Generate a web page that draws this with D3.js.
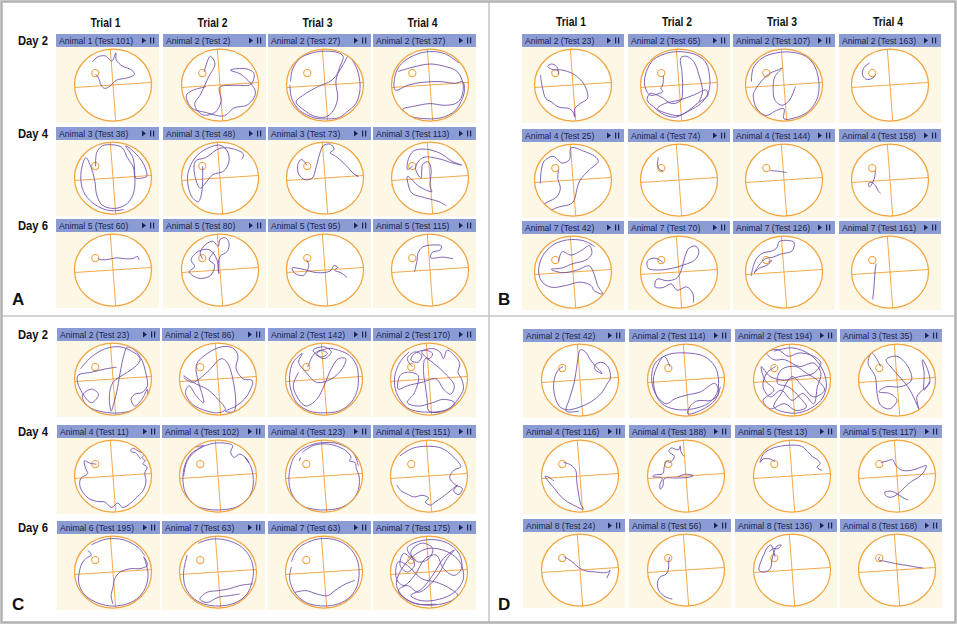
<!DOCTYPE html>
<html lang="en">
<head>
<meta charset="UTF-8">
<title>Water maze swim paths</title>
<script src="https://cdn.jsdelivr.net/npm/d3@7"></script>
<style>
  body { margin: 0; padding: 0; background: #ffffff; }
  svg { display: block; }
</style>
</head>
<body>
<div id="chart"></div>
<script>
// ---- data ----
const panelLetters = ["A", "B", "C", "D"];
const trialLabels = ["Trial 1", "Trial 2", "Trial 3", "Trial 4"];
const dayLabels = ["Day 2", "Day 4", "Day 6"];

const headersA = ["Animal 1 (Test 101)", "Animal 2 (Test 2)", "Animal 2 (Test 27)", "Animal 2 (Test 37)",
  "Animal 3 (Test 38)", "Animal 3 (Test 48)", "Animal 3 (Test 73)", "Animal 3 (Test 113)",
  "Animal 5 (Test 60)", "Animal 5 (Test 80)", "Animal 5 (Test 95)", "Animal 5 (Test 115)"];
const headersB = ["Animal 2 (Test 23)", "Animal 2 (Test 65)", "Animal 2 (Test 107)", "Animal 2 (Test 163)",
  "Animal 4 (Test 25)", "Animal 4 (Test 74)", "Animal 4 (Test 144)", "Animal 4 (Test 158)",
  "Animal 7 (Test 42)", "Animal 7 (Test 70)", "Animal 7 (Test 126)", "Animal 7 (Test 161)"];
const headersC = ["Animal 2 (Test 23)", "Animal 2 (Test 86)", "Animal 2 (Test 142)", "Animal 2 (Test 170)",
  "Animal 4 (Test 11)", "Animal 4 (Test 102)", "Animal 4 (Test 123)", "Animal 4 (Test 151)",
  "Animal 6 (Test 195)", "Animal 7 (Test 63)", "Animal 7 (Test 63)", "Animal 7 (Test 175)"];
const headersD = ["Animal 2 (Test 42)", "Animal 2 (Test 114)", "Animal 2 (Test 194)", "Animal 3 (Test 35)",
  "Animal 4 (Test 116)", "Animal 4 (Test 188)", "Animal 5 (Test 13)", "Animal 5 (Test 117)",
  "Animal 8 (Test 24)", "Animal 8 (Test 56)", "Animal 8 (Test 136)", "Animal 8 (Test 168)"];

// platform position in pool units (-100..100)
const platform = [-46, -33];

// swim tracks, pool units (-100..100, y down), one per cell, row by row; null breaks a track
const pathsA = [
  [[-57,-68],[-42,-83],[-21,-86],[-3,-71],[8,-95],[9,-74],[26,-56],[52,-44],[59,-31],[39,-21],[9,-14],[-8,3],[-23,10],[-33,0],[-40,-21],[-47,-31]],
  [[-44,-39],[-27,-85],[-14,-62],[-31,-25],[-53,26],[-70,58],[-48,88],[-14,81],[3,49],[-1,7],[38,1],[85,-2],[94,-34],[72,-48],[29,-44],[60,-30],[98,21],[77,58],[38,68],[12,91],[-40,81],[-78,68],[-93,31],[-78,17],[-39,5]],
  [[-95,-10],[-90,-45],[-70,-78],[-35,-95],[0,-100],[35,-96],[50,-85],[40,-50],[30,-10],[35,40],[20,80],[0,95],[-30,92],[-50,80],[-80,50],[-60,30],[-20,5],[20,-15],[50,-60],[65,-85],[85,-55],[95,-20],[96,20],[85,55],[60,80],[40,96],[10,100],[-30,97],[-70,75],[-92,40],[-97,0]],
  [[-88,-40],[-50,-52],[0,-62],[40,-55],[75,-40],[92,0],[85,40],[70,55],[40,60],[0,55],[-40,62],[-75,72],[-60,90],[-20,99],[30,97],[70,75],[95,20],[90,-10],[70,-5],[30,-10],[-20,-8],[-60,0],[-96,15],[-98,-20],[-85,-55],[-55,-82],[-10,-98],[40,-93],[80,-65]],
  [[-48,-34],[-45,-75],[-30,-95],[0,-98],[25,-90],[40,-60],[57,-30],[62,0],[80,0],[93,-5],[85,-40],[60,-75],[35,-95],[55,-60],[60,-10],[58,40],[40,75],[5,90],[-30,80],[-45,50],[-50,10],[-60,-30],[-75,-60],[-88,-20],[-85,30],[-65,65],[-30,90],[0,97],[30,93]],
  [[-48,-35],[-48,10],[-50,40],[-60,70],[-78,55],[-90,0],[-80,-40],[-60,-70],[-30,-90],[0,-97],[20,-80],[25,-50],[10,-20],[-20,-10],[-40,15],[-55,30],[-70,-10],[-68,-50],[-40,-60],[0,-88],[40,-85],[65,-70],[60,-55]],
  [[-50,-37],[-65,-55],[-75,-40],[-72,-10],[-55,5],[-35,0],[-25,-30],[-15,-70],[-5,-95],[15,-100],[25,-85],[15,-75],[35,-60],[60,-35],[80,-12],[92,-5],[85,-8]],
  [[-48,-36],[-62,-25],[-60,-55],[-45,-80],[-10,-85],[30,-72],[60,-50],[87,-38],[60,-45],[20,-58],[-20,-60],[-40,-30],[-25,0],[-20,-40],[-5,-48],[3,-25],[0,25],[5,40],[-30,25],[-62,-5],[-60,20],[-50,45],[-15,58],[25,70],[45,82]],
  [[-42,-33],[-30,-30],[-10,-32],[10,-36],[35,-33],[55,-34],[68,-40],[72,-30]],
  [[-48,-33],[-55,-50],[-40,-75],[-20,-85],[-5,-70],[0,-90],[15,-95],[25,-80],[20,-55],[0,-40],[-5,0],[-3,10],[-10,-35],[-30,-60],[-60,-55],[-80,-30],[-70,-10],[-85,5],[-70,20],[-50,25],[-25,15],[-15,-15],[-30,-30],[-15,-55]],
  [[-51,-31],[-45,-13],[-59,16],[-83,10],[-91,-6],[-68,-4],[-21,8],[14,3],[25,-13],[35,-8],[27,1],[44,8],[61,22]],
  [[-43,6],[-36,-27],[-33,-50],[-20,-68],[10,-74],[32,-71],[28,-59],[6,-52],[2,-36],[36,-38],[64,-33]]
];

const pathsB = [
  [[-40,-31],[-45,-55],[-60,-62],[-70,-55],[-55,-45],[-35,-45],[-15,-40],[5,-30],[25,-10],[38,15],[40,40],[20,55],[5,70],[5,95],[0,80],[-10,70],[-40,65],[-60,50],[-75,40],[-85,5],[-90,-30]],
  [[-43,-28],[-45,0],[-50,10],[-45,20],[-55,25],[-80,30],[-95,0],[-90,-40],[-70,-75],[-30,-95],[10,-98],[50,-88],[75,-65],[85,-20],[82,20],[60,55],[30,75],[0,90],[-30,85],[-60,70],[-40,55],[0,45],[40,30],[75,15],[80,30],[50,55],[20,80],[-10,95],[-40,88],[-70,65],[-88,45],[-80,25],[-50,35],[-20,55],[5,45],[10,10],[8,-40],[5,-80],[20,-85],[40,-70],[55,-30],[65,20],[55,50]],
  [[-90,-10],[-85,-50],[-60,-80],[-20,-95],[20,-97],[60,-85],[85,-55],[97,0],[90,45],[65,80],[30,97],[0,100],[0,70],[-20,75],[-50,90],[-75,70],[-85,30],[-80,15],[-55,-20],[-38,-35],[-15,-45],[-5,-50],[-25,-25],[-30,10],[-25,45],[-5,60],[15,45],[30,10],[32,5]],
  [[-57,-65],[-72,-51],[-76,-31],[-66,-17],[-50,-19],[-41,-28]],
  [[-40,-30],[-42,-5],[-35,25],[-45,50],[-70,65],[-85,75],[-70,90],[-40,80],[-5,70],[5,55],[10,30],[20,0],[45,-30],[70,-55],[60,-70],[30,-85],[-5,-95],[-10,-60],[-30,-50],[-55,-70],[-80,-55],[-88,-25],[-90,10]],
  [[-57,-67],[-59,-44],[-53,-30],[-44,-27]],
  [[-39,-28],[-26,-27],[-9,-25],[7,-22]],
  [[-40,-28],[-42,-11],[-47,6],[-57,21],[-59,10],[-50,7],[-40,17],[-33,31],[-26,40]],
  [[-40,-30],[-30,-60],[-5,-50],[25,-65],[45,-78],[52,-55],[35,-35],[0,-25],[-30,-12],[-60,-8],[-30,2],[10,-5],[45,-18],[58,5],[68,40],[82,65],[58,55],[50,40],[20,30],[-20,40],[-60,45],[-85,30],[-95,0],[-85,-45],[-55,-80],[-15,-95],[30,-92],[60,-75]],
  [[-44,-28],[-66,-41],[-87,-33],[-85,-11],[-57,-6],[-18,-11],[16,-22],[42,-34],[55,-57],[47,-76],[28,-71],[16,-44],[8,-11],[-5,17],[-31,26],[-61,21],[-66,44],[-44,46],[-22,35],[-5,54],[21,44],[38,63],[40,91]],
  [[-91,12],[-84,-20],[-73,-44],[-56,-57],[-34,-62],[-20,-71],[-13,-90],[13,-93],[28,-87],[22,-62],[-9,-53],[-30,-44],[-52,-39],[-69,-20],[-82,3],[-69,-11],[-47,-20],[-34,-34],[-42,-30]],
  [[-38,-25],[-41,-6],[-43,26],[-45,54],[-48,81]]
];

const pathsC = [
  [[-90,-30],[-60,-65],[-20,-90],[20,-95],[55,-80],[75,-60],[65,-40],[40,-20],[0,10],[-10,50],[-5,95],[0,80],[10,40],[20,-20],[30,-70],[40,-95],[60,-85],[80,-55],[90,-20],[95,20],[80,40],[60,45],[50,60],[60,80],[80,60],[95,30],[90,70],[60,90],[20,100],[-30,97],[-70,80],[-85,50],[-60,30],[-40,45],[-60,70],[-95,20],[-97,-10],[-60,-20],[-20,-30],[10,-35]],
  [[-95,-10],[-60,15],[-30,30],[0,60],[20,90],[0,100],[-30,95],[-70,75],[-90,40],[-80,20],[-60,50],[-40,70],[-60,-40],[-30,-75],[10,-95],[40,-92],[55,-70],[50,-30],[70,0],[95,5],[80,50],[50,80],[20,95],[45,95],[30,-40],[10,-60],[-30,-20],[-70,10],[-95,-5]],
  [[-45,-35],[-30,-70],[-10,-85],[10,-75],[-10,-65],[-30,-85],[0,-95],[20,-80],[0,-60],[-20,-75],[10,-90],[40,-85],[70,-70],[90,-40],[95,0],[90,40],[70,75],[40,95],[0,100],[-40,95],[-75,70],[-92,30],[-95,-10],[-85,-50],[-60,-75],[-70,-50],[-50,-20],[-20,10],[20,0],[50,-30],[60,-60],[40,-60],[20,-30],[0,20],[-20,60],[-50,80],[-70,60],[-85,20],[-70,-20]],
  [[-45,-35],[-60,-60],[-40,-80],[-20,-70],[-30,-50],[-50,-55],[-40,-75],[-10,-85],[10,-75],[0,-60],[-20,-80],[10,-90],[30,-80],[40,-60],[50,-85],[70,-70],[85,-45],[80,-20],[90,0],[95,30],[80,60],[60,85],[30,98],[0,95],[-5,60],[-10,20],[-15,-20],[-10,-60],[20,-40],[50,-10],[70,20],[60,45],[40,30],[20,0],[-20,10],[-60,20],[-85,30],[-80,-10],[-60,-20],[-30,-10],[-40,40],[-60,70],[-30,80],[10,70],[40,60],[70,70],[50,90],[-10,98],[-60,85],[-90,40],[-95,-5],[-80,-50],[-55,-80]],
  [[-46,-35],[-64,-38],[-79,-45],[-76,-23],[-70,-7],[-89,7],[-91,32],[-70,64],[-45,75],[-22,77],[-4,93],[13,80],[27,93],[49,80],[64,64],[82,45],[91,18],[88,-9],[94,-27],[82,-36],[89,-45],[80,-55],[88,-64],[71,-73],[54,-82],[49,-73],[63,-68],[76,-50]],
  [[-95,0],[-85,-45],[-60,-75],[-20,-95],[20,-97],[40,-90],[35,-70],[45,-55],[60,-65],[80,-50],[85,-40],[75,-55],[90,-30],[97,0],[95,40],[80,70],[50,92],[10,100],[-30,98],[-65,85],[-90,50],[-97,10],[-92,-30],[-75,-65],[-40,-90],[-60,-85]],
  [[-65,-55],[-68,-45],null,[-60,-70],[-30,-90],[0,-95],[30,-90],[60,-75],[75,-55],[70,-45],[85,-40],[90,-20],[97,0],[95,40],[80,70],[50,92],[10,100],[-30,98],[-65,85],[-90,50],[-97,10],[-92,-30],[-80,-60],[-50,-85],[-10,-98],[40,-95],[80,-70],[95,-30]],
  [[-81,-59],[-45,-82],[-5,-88],[35,-82],[65,-59],[88,-27],[70,-18],[57,5],[74,27],[92,36],[83,55],[68,44],[79,27],[52,50],[35,64],[17,77],[4,86],[-10,77],[-1,65],[-19,57],[-41,62],[-61,53],[-76,45],[-89,27]],
  [[-70,-65],[-60,-50],[-75,-40],[-88,-20],[-95,30],[-80,65],[-50,88],[-10,100],[30,97],[65,80],[88,50],[97,10],[90,-30],[85,-45],[95,-20],[75,-10],[50,-10],[20,0],[5,20],[0,45],[-5,70],[0,95],null,[-60,-80],[-20,-97],[30,-95],[70,-72],[88,-48]],
  [[-85,-50],[-95,0],[-90,45],[-65,80],[-30,97],[10,100],[50,90],[80,65],[95,25],[97,-15],[85,-50],[60,-78],[20,-95],[-20,-97],[-55,-85],null,[96,35],[60,40],[30,50],[0,55],[-30,60],[-50,80],[-30,90],[0,75],[30,70],[60,65]],
  [[-90,-30],[-75,-65],[-45,-88],[-5,-99],[35,-94],[70,-72],[92,-35],[97,10],[88,50],[65,80],[30,97],[-10,100],[-50,90],[-80,62],[-95,20],[-90,-15],null,[-80,60],[-50,55],[-20,65],[10,70],[30,55],[60,35],[85,25]],
  [[-45,-35],[-70,-55],[-80,-20],[-60,0],[-40,-20],[-50,-60],[-20,-85],[10,-70],[0,-40],[-30,-30],[-60,-70],[-30,-90],[20,-95],[60,-80],[85,-50],[90,-10],[70,10],[40,-10],[20,-50],[-10,-40],[-40,10],[-70,40],[-90,20],[-85,-30],[-60,-20],[-20,20],[20,30],[60,50],[80,70],[50,90],[0,98],[-50,88],[-85,55],[-60,40],[-30,60],[0,40],[30,0],[50,-40],[70,-65],[40,-40],[10,10],[-20,50],[-50,70],[-20,85],[30,80],[70,60],[95,20],[85,-30],[50,-60],[0,-70],[-40,-50],[-75,-10],[-90,35],[-70,75],[-30,95],[20,95]]
];

const pathsD = [
  [[-47,-40],[-62,-27],[-72,4],[-71,41],[-57,78],[-36,88],[-3,81],[31,64],[59,39],[74,13],[84,-6],[78,-38],[61,-52],[44,-47],[40,-33],[61,-19],[31,-56],[14,-84],[1,-89],[-8,-47],[-16,8],[-29,55],[-38,92],[-3,92]],
  [[-45,-40],[-60,-70],[-80,-40],[-90,0],[-80,50],[-60,75],[-20,88],[20,85],[60,70],[85,40],[90,0],[80,-40],[50,-70],[0,-80],[-50,-75],[-85,-50],[-95,-10],[-85,40],[-55,70],[-30,55],[0,45],[40,35],[80,10],[90,40],[70,60],[30,62],[10,80],[5,100],[40,90],[80,60],[95,20]],
  [[-45,-40],[-70,-20],[-80,20],[-60,50],[-30,30],[0,60],[30,40],[60,70],[70,20],[80,-20],[60,-50],[20,-40],[-20,-60],[-50,-60],[-70,-80],[-40,-90],[-10,-70],[20,-80],[60,-70],[80,-50],[60,-20],[20,-10],[-20,0],[-60,-10],[-85,-40],[-75,0],[-50,30],[-80,60],[-60,85],[-20,70],[10,90],[40,80],[20,50],[-10,20],[-40,10],[-30,-30],[10,-40],[40,-20],[70,0],[90,30],[60,50],[30,20],[0,-10],[-30,40],[-50,80],[0,98],[40,90],[80,60],[95,20],[85,-30],[50,-75],[0,-95],[-50,-85]],
  [[-45,-40],[-55,-60],[-70,-80],[-80,-50],[-60,-10],[-55,40],[-45,75],[-20,85],[0,60],[-20,40],[-50,35],[-30,20],[10,20],[40,0],[30,-40],[0,-70],[-30,-60],[-10,-30],[30,20],[50,60],[60,85],[55,50],[70,30],[90,10],[85,-30],[70,-60],[75,-20],[75,30],[90,5]],
  [[-45,-40],[-26,-33],[-12,-17],[-9,16],[-4,53],[2,83],[9,98],[-20,85],[-48,66],[-70,38],[-91,11],[-96,0],[-83,6],[-72,15]],
  [[-6,-58],[-14,-72],[-16,-89],[-21,-77],[-41,-83],[-47,-72],[-32,-58],[-45,-40],[-53,-44],[-60,-28],[-64,-7],[-86,-3],[-92,2],[-66,6],[-72,25],[-71,39],[-64,30],[-60,8],[-28,6],[7,4],[20,-1],[-2,-5],[-22,2]],
  [[-47,-42],[-60,-50],[-80,-50],[-88,-40],[-79,-65],[-56,-81],[-26,-89],[9,-91],[30,-86],[43,-72],[56,-58],[69,-49],[78,-37],[69,-26],[82,-17]],
  [[-45,-40],[-28,-44],[-12,-48],[-3,-31],[14,-17],[40,-17],[66,-26],[81,-31],[74,-12],[59,4],[40,16],[24,31],[7,48],[-12,62],[-29,60],[-34,48],[-16,45],[1,53],[16,64],[31,71]],
  [[-45,-39],[-30,-31],[-16,-19],[-2,-6],[17,3],[43,6],[68,8],[77,6],[83,1],[78,15],[74,24]],
  [[-45,-39],[-48,-25],[-48,-6],[-55,12],[-72,21],[-79,39],[-75,61],[-62,76],[-49,83],[-38,86]],
  [[-47,-39],[-52,-59],[-59,-74],[-69,-65],[-78,-45],[-86,-25],[-91,1],[-76,6],[-60,-4],[-56,-27],[-50,-52],[-41,-71],[-30,-74],[-39,-63],[-53,-63],[-62,-54]],
  [[-47,-39],[-51,-30],[-34,-26],[-4,-19],[30,-13],[56,-8],[72,-6]]
];

// ---- layout ----
const W = 957, H = 625;
const barH = 13, cellH = 76, rx = 38.5, ry = 36;
const trackScale = 0.94;   // tracks hug the wall just inside the ring

const panels = [
  { letter: panelLetters[0], headers: headersA, paths: pathsA, colX: [56, 163, 268, 373], barW: 103,
    rowY: [34, 127, 219], cxOff: 57, trials: true, trialY: 27, days: true, lx: 12, ly: 305 },
  { letter: panelLetters[1], headers: headersB, paths: pathsB, colX: [522, 628, 733, 839], barW: 102,
    rowY: [34, 129, 221], cxOff: 51, trials: true, trialY: 26, days: false, lx: 498, ly: 305 },
  { letter: panelLetters[2], headers: headersC, paths: pathsC, colX: [57, 162, 268, 373], barW: 103,
    rowY: [328, 425, 521], cxOff: 56, trials: false, days: true, lx: 12, ly: 610 },
  { letter: panelLetters[3], headers: headersD, paths: pathsD, colX: [523, 629, 735, 840], barW: 102,
    rowY: [329, 425, 519], cxOff: 57, trials: false, days: false, lx: 498, ly: 610 }
];

const svg = d3.select("#chart").append("svg")
    .attr("width", W)
    .attr("height", H)
    .attr("viewBox", [0, 0, W, H]);

svg.append("rect").attr("width", W).attr("height", H).attr("fill", "#fff");

const defs = svg.append("defs");
const tilt = 4 * Math.PI / 180;   // the cross hairs are slightly rotated
let clipId = 0;

panels.forEach(p => {
    const g = svg.append("g");

    if (p.trials) {
        g.selectAll("text.trial").data(trialLabels).join("text")
            .attr("class", "trial")
            .attr("x", (d, i) => p.colX[i] + p.barW / 2 - 2)
            .attr("y", p.trialY)
            .attr("text-anchor", "middle")
            .attr("textLength", 30)
            .attr("lengthAdjust", "spacingAndGlyphs")
            .attr("font-family", "Liberation Sans, Arial, sans-serif")
            .attr("font-weight", "bold")
            .attr("font-size", 13.5)
            .attr("fill", "#111")
            .text(d => d);
    }

    if (p.days) {
        g.selectAll("text.day").data(dayLabels).join("text")
            .attr("class", "day")
            .attr("x", 18)
            .attr("y", (d, i) => p.rowY[i] + 11)
            .attr("textLength", 30)
            .attr("lengthAdjust", "spacingAndGlyphs")
            .attr("font-family", "Liberation Sans, Arial, sans-serif")
            .attr("font-weight", "bold")
            .attr("font-size", 13.5)
            .attr("fill", "#111")
            .text(d => d);
    }

    g.append("text")
        .attr("x", p.lx)
        .attr("y", p.ly)
        .attr("font-family", "Liberation Sans, Arial, sans-serif")
        .attr("font-weight", "bold")
        .attr("font-size", 17)
        .attr("fill", "#111")
        .text(p.letter);

    p.paths.forEach((track, k) => {
        const row = Math.floor(k / 4), col = k % 4;
        const bx = p.colX[col], by = p.rowY[row];
        const cx = bx + p.cxOff, cy = by + barH + 38;

        const x = d3.scaleLinear().domain([-100, 100]).range([cx - rx, cx + rx]);
        const y = d3.scaleLinear().domain([-100, 100]).range([cy - ry, cy + ry]);
        const tx = d3.scaleLinear().domain([-100, 100]).range([cx - rx * trackScale, cx + rx * trackScale]);
        const ty = d3.scaleLinear().domain([-100, 100]).range([cy - ry * trackScale, cy + ry * trackScale]);

        const cell = g.append("g");

        // header bar
        cell.append("rect")
            .attr("x", bx).attr("y", by)
            .attr("width", p.barW).attr("height", barH)
            .attr("fill", "#8b9cd4");
        cell.append("text")
            .attr("x", bx + 3).attr("y", by + 9.8)
            .attr("font-family", "Liberation Sans, Arial, sans-serif")
            .attr("font-size", 8.6)
            .attr("fill", "#1b2452")
            .text(p.headers[k]);
        const ix = bx + p.barW - 17;
        cell.append("path")
            .attr("d", `M${ix},${by + 3.5}L${ix + 4},${by + 6.5}L${ix},${by + 9.5}Z`)
            .attr("fill", "#1b2452");
        cell.append("rect").attr("x", ix + 8).attr("y", by + 3.5).attr("width", 1.2).attr("height", 6).attr("fill", "#1b2452");
        cell.append("rect").attr("x", ix + 11).attr("y", by + 3.5).attr("width", 1.2).attr("height", 6).attr("fill", "#1b2452");

        // cream background
        cell.append("rect")
            .attr("x", bx).attr("y", by + barH)
            .attr("width", p.barW).attr("height", cellH)
            .attr("fill", "#fdf7e6");

        // pool
        cell.append("ellipse")
            .attr("cx", cx).attr("cy", cy).attr("rx", rx).attr("ry", ry)
            .attr("fill", "#fff")
            .attr("stroke", "#f2a43f").attr("stroke-width", 1.25);

        const s = Math.sin(tilt), c = Math.cos(tilt);
        cell.append("line")
            .attr("x1", cx - rx * c).attr("y1", cy + ry * s)
            .attr("x2", cx + rx * c).attr("y2", cy - ry * s)
            .attr("stroke", "#f5aa48").attr("stroke-width", 1);
        cell.append("line")
            .attr("x1", cx - rx * s).attr("y1", cy - ry * c)
            .attr("x2", cx + rx * s).attr("y2", cy + ry * c)
            .attr("stroke", "#f5aa48").attr("stroke-width", 1);

        cell.append("circle")
            .attr("cx", x(platform[0])).attr("cy", y(platform[1])).attr("r", 3.6)
            .attr("fill", "none")
            .attr("stroke", "#f0a23e").attr("stroke-width", 1.1);

        // swim track, clipped to the pool
        const id = "pool" + (clipId++);
        defs.append("clipPath").attr("id", id)
            .append("ellipse")
            .attr("cx", cx).attr("cy", cy).attr("rx", rx - 0.3).attr("ry", ry - 0.3);

        const line = d3.line()
            .defined(d => d !== null)
            .x(d => tx(d[0]))
            .y(d => ty(d[1]))
            .curve(d3.curveCatmullRom.alpha(0.5));

        cell.append("path")
            .attr("clip-path", `url(#${id})`)
            .attr("d", line(track))
            .attr("fill", "none")
            .attr("stroke", "#7453a8")
            .attr("stroke-width", 1)
            .attr("stroke-opacity", 0.9)
            .attr("stroke-linejoin", "round");
    });
});

// panel frame and dividers
svg.append("line").attr("x1", 489).attr("x2", 489).attr("y1", 2).attr("y2", 622)
    .attr("stroke", "#c4c4c4").attr("stroke-width", 1.5);
svg.append("line").attr("x1", 2).attr("x2", 955).attr("y1", 316).attr("y2", 316)
    .attr("stroke", "#c4c4c4").attr("stroke-width", 1.5);
svg.append("rect").attr("x", 1.5).attr("y", 1.5).attr("width", 954).attr("height", 621)
    .attr("fill", "none").attr("stroke", "#b2b2b2").attr("stroke-width", 2.5);
</script>
</body>
</html>
